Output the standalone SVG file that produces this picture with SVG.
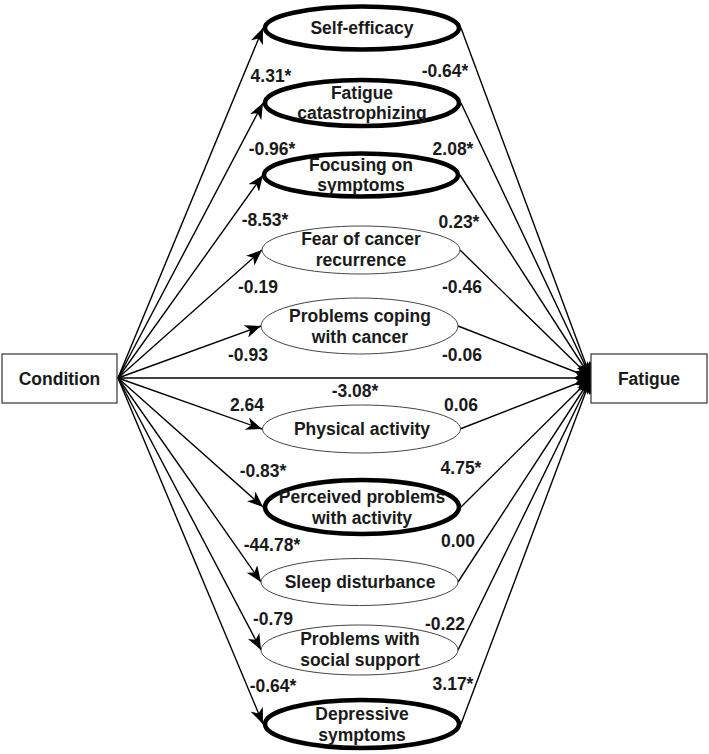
<svg xmlns="http://www.w3.org/2000/svg" width="709" height="754" viewBox="0 0 709 754">
<defs>
<marker id="ah" viewBox="0 0 16 13" refX="16" refY="6.5" markerWidth="16" markerHeight="13" markerUnits="userSpaceOnUse" orient="auto">
<path d="M0,0 L16,6.5 L0,13 L4.5,6.5 z" fill="#000"/>
</marker>
<style>
text{font-family:"Liberation Sans",Arial,sans-serif;font-weight:bold;font-size:17.5px;fill:#1a1a1a;text-anchor:middle}
.box{fill:#fff;stroke:#333;stroke-width:1.2}
.thick{fill:#fff;stroke:#000;stroke-width:4.5}
.thin{fill:#fff;stroke:#444;stroke-width:1}
.e{stroke:#000;stroke-width:1.4;fill:none;marker-end:url(#ah)}
</style>
</defs>
<rect width="709" height="754" fill="#fff"/>
<g id="connectors">
<line class="e" x1="118" y1="378" x2="263" y2="28"/>
<line class="e" x1="118" y1="378" x2="263" y2="103"/>
<line class="e" x1="118" y1="378" x2="263" y2="175"/>
<line class="e" x1="118" y1="378" x2="262" y2="250"/>
<line class="e" x1="118" y1="378" x2="261" y2="326"/>
<line class="e" x1="118" y1="378" x2="591" y2="378"/>
<line class="e" x1="118" y1="378" x2="262" y2="429"/>
<line class="e" x1="118" y1="378" x2="263" y2="507"/>
<line class="e" x1="118" y1="378" x2="261" y2="582"/>
<line class="e" x1="118" y1="378" x2="261" y2="650"/>
<line class="e" x1="118" y1="378" x2="263" y2="724"/>
<line class="e" x1="461" y1="28" x2="591" y2="378"/>
<line class="e" x1="461" y1="103" x2="591" y2="378"/>
<line class="e" x1="460" y1="175" x2="591" y2="378"/>
<line class="e" x1="460" y1="250" x2="591" y2="378"/>
<line class="e" x1="458" y1="326" x2="591" y2="378"/>
<line class="e" x1="460" y1="429" x2="591" y2="378"/>
<line class="e" x1="461" y1="507" x2="591" y2="378"/>
<line class="e" x1="458" y1="582" x2="591" y2="378"/>
<line class="e" x1="458" y1="650" x2="591" y2="378"/>
<line class="e" x1="461" y1="724" x2="591" y2="378"/>
</g>
<g id="labels">
<text x="271" y="82">4.31*</text>
<text x="272" y="155">-0.96*</text>
<text x="265" y="226">-8.53*</text>
<text x="258" y="293">-0.19</text>
<text x="248" y="361">-0.93</text>
<text x="247" y="411">2.64</text>
<text x="263" y="477">-0.83*</text>
<text x="272" y="551">-44.78*</text>
<text x="273" y="625">-0.79</text>
<text x="273" y="692">-0.64*</text>
<text x="445" y="77">-0.64*</text>
<text x="453" y="155">2.08*</text>
<text x="459" y="228">0.23*</text>
<text x="462" y="293">-0.46</text>
<text x="462" y="361">-0.06</text>
<text x="355" y="397">-3.08*</text>
<text x="461" y="411">0.06</text>
<text x="461" y="474">4.75*</text>
<text x="458" y="547">0.00</text>
<text x="445" y="630">-0.22</text>
<text x="453" y="690">3.17*</text>
</g>
<g id="condition">
<rect class="box" x="2" y="354" width="115" height="49"/>
<text x="59.5" y="385">Condition</text>
</g>
<g id="fatigue">
<rect class="box" x="591" y="354" width="116" height="49"/>
<text x="649" y="385">Fatigue</text>
</g>
<g id="self-efficacy">
<ellipse class="thick" cx="362" cy="28" rx="97" ry="21.5"/>
<text x="362" y="34">Self-efficacy</text>
</g>
<g id="fatigue-catastrophizing">
<ellipse class="thick" cx="362" cy="103" rx="97" ry="23"/>
<text x="362" y="99">Fatigue</text>
<text x="362" y="119">catastrophizing</text>
</g>
<g id="focusing-on-symptoms">
<ellipse class="thick" cx="361" cy="175" rx="97" ry="21.5"/>
<text x="361" y="171">Focusing on</text>
<text x="361" y="191">symptoms</text>
</g>
<g id="fear-of-cancer-recurrence">
<ellipse class="thin" cx="361" cy="250" rx="99" ry="24"/>
<text x="361" y="245">Fear of cancer</text>
<text x="361" y="266">recurrence</text>
</g>
<g id="problems-coping">
<ellipse class="thin" cx="359.5" cy="326" rx="98.5" ry="28"/>
<text x="360" y="322">Problems coping</text>
<text x="360" y="343">with cancer</text>
</g>
<g id="physical-activity">
<ellipse class="thin" cx="361.5" cy="429" rx="99" ry="24"/>
<text x="362" y="435">Physical activity</text>
</g>
<g id="perceived-problems">
<ellipse class="thick" cx="362" cy="507" rx="97" ry="27"/>
<text x="362" y="503">Perceived problems</text>
<text x="362" y="524">with activity</text>
</g>
<g id="sleep-disturbance">
<ellipse class="thin" cx="359.5" cy="582" rx="98.5" ry="23.5"/>
<text x="360" y="588">Sleep disturbance</text>
</g>
<g id="problems-social-support">
<ellipse class="thin" cx="359.5" cy="650" rx="98.5" ry="25"/>
<text x="360" y="645">Problems with</text>
<text x="360" y="666">social support</text>
</g>
<g id="depressive-symptoms">
<ellipse class="thick" cx="362" cy="724" rx="97" ry="24"/>
<text x="362" y="720">Depressive</text>
<text x="362" y="741">symptoms</text>
</g>
</svg>
